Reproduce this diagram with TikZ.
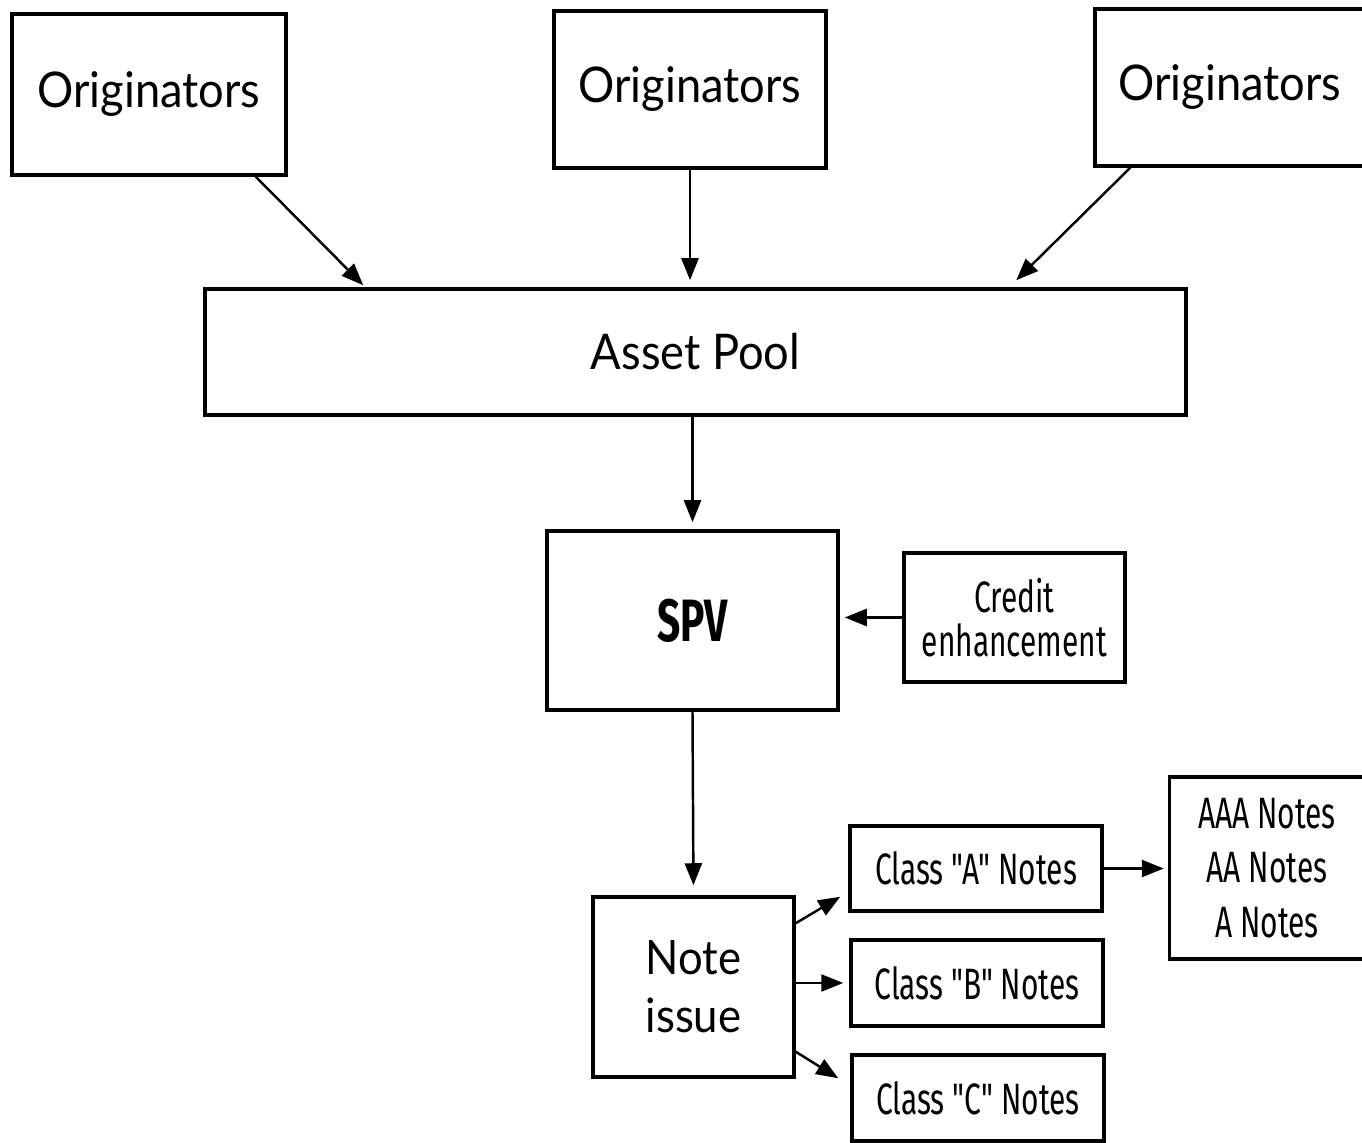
\documentclass[tikz,border=0pt]{standalone}
\usepackage{fontspec}
\setmainfont[FakeStretch=0.92]{Lato}
\newfontfamily\narrowfont[FakeStretch=0.68]{Fira Sans}
\usetikzlibrary{arrows.meta,calc}

\tikzset{
    box/.style={draw,line width=1pt,align=center,inner sep=0},
    bigbox/.style={box,font=\fontsize{14}{17}\selectfont},
    smallbox/.style={box,font=\narrowfont\fontsize{12.5}{12.6}\selectfont},
    flow/.style={line width=0.7pt,-{Triangle[length=2.2mm,width=1.7mm]}}
}

\begin{document}
\begin{tikzpicture}
    \pgfmathsetmacro{\pagewidth}{13.62}
    \pgfmathsetmacro{\pageheight}{11.43}
    \useasboundingbox (0,0) rectangle (\pagewidth,\pageheight);
    \fill[white] (0,0) rectangle (\pagewidth,\pageheight);
    % top row
    \node[bigbox,minimum width=2.74cm,minimum height=1.61cm] (orig1) at (1.49,10.485) {Originators};
    \node[bigbox,minimum width=2.72cm,minimum height=1.57cm] (orig2) at (6.90,10.535) {Originators};
    \node[bigbox,minimum width=2.70cm,minimum height=1.57cm] (orig3) at (12.30,10.555) {Originators};
    \node[bigbox,minimum width=9.81cm,minimum height=1.26cm] (pool) at (6.955,7.91) {Asset Pool};
    % vehicle
    \node[box,font=\narrowfont\bfseries\fontsize{17}{20}\selectfont,minimum width=2.91cm,minimum height=1.79cm] (spv) at (6.925,5.225) {SPV};
    \node[smallbox,minimum width=2.21cm,minimum height=1.29cm] (credit) at (10.145,5.255) {Credit\\enhancement};
    % notes
    \node[bigbox,font=\fontsize{13.5}{16.5}\selectfont,minimum width=2.01cm,minimum height=1.80cm] (issue) at (6.935,1.56) {Note\\issue};
    \node[smallbox,minimum width=2.52cm,minimum height=0.85cm] (clsA) at (9.76,2.745) {Class "A" Notes};
    \node[smallbox,minimum width=2.52cm,minimum height=0.86cm] (clsB) at (9.77,1.60) {Class "B" Notes};
    \node[smallbox,minimum width=2.52cm,minimum height=0.86cm] (clsC) at (9.78,0.45) {Class "C" Notes};
    \node[smallbox,font=\narrowfont\fontsize{12.5}{15.6}\selectfont,minimum width=1.95cm,minimum height=1.82cm] (rated) at (12.67,2.75) {AAA Notes\\AA Notes\\A Notes};
    % connectors
    \draw[flow] ($(orig1.south east)+(-0.32,0)$) -- ($(pool.north west)+(1.60,0.02)$);
    \draw[flow] (orig2.south) -- (orig2.south |- pool.north) [shorten >=0.07cm];
    \draw[flow] ($(orig3.south west)+(0.37,0)$) -- ($(pool.north west)+(8.13,0.07)$);
    \draw[flow,shorten >=0.07cm] (spv.north |- pool.south) -- (spv.north);
    \draw[flow,shorten >=0.10cm] (spv.south) -- (issue.north);
    \draw[flow,shorten >=0.05cm] (credit.west) -- (credit.west -| spv.east);
    \draw[flow] ($(issue.north east)+(0,-0.28)$) -- ($(clsA.south west)+(-0.08,0.16)$);
    \draw[flow,shorten >=0.06cm] (issue.east |- clsB.west) -- (clsB.west);
    \draw[flow] ($(issue.south east)+(0,0.27)$) -- ($(clsC.north west)+(-0.12,-0.25)$);
    \draw[flow,shorten >=0.04cm] (clsA.east) -- (clsA.east -| rated.west);
\end{tikzpicture}
\end{document}
